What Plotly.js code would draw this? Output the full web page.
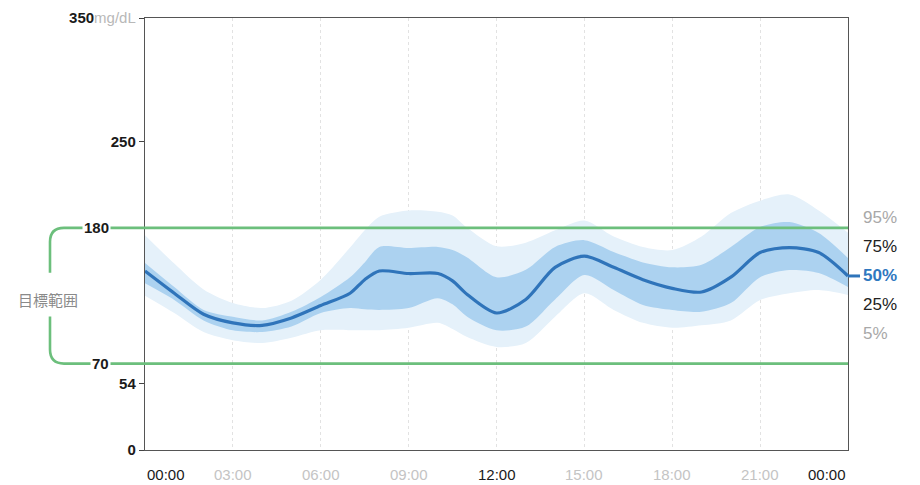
<!DOCTYPE html>
<html>
<head>
<meta charset="utf-8">
<script src="https://cdn.plot.ly/plotly-3.0.1.min.js"></script>
<style>html,body{margin:0;padding:0;background:#fff;}#chart{width:920px;height:485px;}</style>
</head>
<body>
<div id="chart"></div>
<script>
// ---- data (hours of day, mg/dL) ----
const hours = [0,1,2,3,4,5,6,7,7.5,8,9,10,10.5,11,12,13,14,15,16,17,18,19,20,21,22,23,24];
const p95 = [174,151,130,119,115,121,138,164,178,189,194,193,190,180,165,168,178,186,173,164.5,162,173,192,202,207,194,176];
const p75 = [151.5,132,113.5,108,105,112,124,140,152,164.5,163.6,164.5,162,156,140,146,164.5,170,160.5,152,148,150,164.5,180.7,184.7,175.8,155.5];
const p50 = [145,127,110,103,101,107,117,127,138,145,143,143,137,126,111,122,148,157,148,138,131,128,140,160,164,160,141];
const p25 = [135,121.5,105,97,95.6,100,111,115,114,113.5,115,123,118,108,97,100,122,141.8,129.6,117.5,113.5,112,119,140,145.8,143.4,132];
const p5  = [125,111,95.6,89,86.7,91,97,97,97,97,99,103,98,91.5,83.5,86.7,108,127,113.5,103,99,101,105,121.5,127,129.6,125.6];

const xTickVals = [0,3,6,9,12,15,18,21,24];
const xTickText = ['00:00','03:00','06:00','09:00','12:00','15:00','18:00','21:00','00:00'];
const xTickMajor = [true,false,false,false,true,false,false,false,true];

const yTickVals = [0,54,250,350];
const yTickText = ['0','54','250','350'];
const targetLow = 70, targetHigh = 180;
const targetLabel = '目標範囲';
const unit = 'mg/dL';
const pctLabels = ['95%','75%','50%','25%','5%'];
const pctColors = ['#a8a8a8','#222222','#2f78c0','#222222','#a8a8a8'];

// ---- styles ----
const narrow = '"Liberation Sans", Arial, sans-serif';
const sans = '"Liberation Sans", Arial, sans-serif';
const green = '#6cbf7c';
const spl = {shape:'spline', smoothing:0.8, width:0};

const traces = [
  {x:hours, y:p5, mode:'lines', line:Object.assign({color:'rgba(0,0,0,0)'},spl), hoverinfo:'skip', showlegend:false},
  {x:hours, y:p95, mode:'lines', fill:'tonexty', fillcolor:'#e5f1fa', line:Object.assign({color:'rgba(0,0,0,0)'},spl), hoverinfo:'skip', showlegend:false},
  {x:hours, y:p25, mode:'lines', line:Object.assign({color:'rgba(0,0,0,0)'},spl), hoverinfo:'skip', showlegend:false},
  {x:hours, y:p75, mode:'lines', fill:'tonexty', fillcolor:'#acd2f0', line:Object.assign({color:'rgba(0,0,0,0)'},spl), hoverinfo:'skip', showlegend:false},
  {x:hours, y:p50, mode:'lines', line:{color:'#2f74ba', width:3.2, shape:'spline', smoothing:0.8}, hoverinfo:'skip', showlegend:false}
];

// geometry helpers (paper coords relative to plot area)
const L = 145, R = 72, T = 18, B = 35, W = 920, H = 485;
const pw = W - L - R;
const px = p => (p - L) / pw;           // pixel x -> paper x
const yPerPx = 350 / (H - T - B);       // data units per pixel

const cx = px(50), rX = 14 / pw, rY = 14 * yPerPx;
const gapTop = targetHigh - 45 * yPerPx, gapBot = targetLow + 47 * yPerPx;
const bracket = `M 1,${targetHigh} L ${cx + rX},${targetHigh} Q ${cx},${targetHigh} ${cx},${targetHigh - rY} L ${cx},${gapTop} ` +
                `M ${cx},${gapBot} L ${cx},${targetLow + rY} Q ${cx},${targetLow} ${cx + rX},${targetLow} L 1,${targetLow}`;

const shapes = [
  {type:'path', path:bracket, xref:'paper', yref:'y', line:{color:green, width:2.6}, layer:'above'},
  {type:'line', xref:'paper', yref:'y', x0:1, x1:1 + 12/pw, y0:p50[p50.length-1], y1:p50[p50.length-1], line:{color:'#2f74ba', width:3}}
];

const annotations = [];
// x labels
xTickVals.forEach((v,i) => {
  annotations.push({x:v, xref:'x', y:0, yref:'paper', yshift:-14, yanchor:'top', showarrow:false,
    xanchor: i === 0 ? 'left' : (i === xTickVals.length - 1 ? 'right' : 'center'),
    text:xTickText[i], font:{family:narrow, size:15, color: xTickMajor[i] ? '#1a1a1a' : '#c4c4c4'}});
});
// target labels
[targetHigh, targetLow].forEach(v => {
  annotations.push({x:px(111), xref:'paper', y:v, yref:'y', xanchor:'right', yanchor:'middle', showarrow:false,
    text:'<b>' + v + '</b>', bgcolor:'#ffffff', borderpad:1, font:{family:narrow, size:15, color:'#1a1a1a'}});
});
annotations.push({x:px(48), xref:'paper', y:(targetHigh + targetLow) / 2 - 4 * yPerPx, yref:'y', xanchor:'center', yanchor:'middle',
  showarrow:false, text:targetLabel, font:{family:'"Noto Sans CJK JP", sans-serif', size:15, color:'#8a8a8a'}});
// percentile labels
const midY = p50[p50.length-1], step = 23.5;
pctLabels.forEach((t,i) => {
  annotations.push({x:px(861), xref:'paper', y:midY + (2 - i) * step, yref:'y', xanchor:'left', yanchor:'middle', showarrow:false,
    text: i === 2 ? '<b>' + t + '</b>' : t, font:{family:sans, size:17, color:pctColors[i]}});
});

const yText = yTickText.map((t,i) => yTickVals[i] === 350 ? '<b>' + t + '</b><span style="color:#b8b8b8;font-weight:normal">' + unit + '</span>' : '<b>' + t + '</b>');

const layout = {
  width:W, height:H,
  margin:{l:L, r:R, t:T, b:B},
  paper_bgcolor:'#ffffff', plot_bgcolor:'#ffffff',
  showlegend:false,
  xaxis:{range:[0,24], tickvals:xTickVals, showticklabels:false, ticks:'', showgrid:true, gridcolor:'#e2e2e2', griddash:'dot', gridwidth:1,
         showline:true, linecolor:'#555', linewidth:1.2, mirror:true, zeroline:false, fixedrange:true},
  yaxis:{range:[0,350], tickvals:yTickVals, ticktext:yText, ticks:'outside', ticklen:5, tickcolor:'#444', showgrid:false,
         showline:true, linecolor:'#555', linewidth:1.2, mirror:true, zeroline:false, fixedrange:true,
         tickfont:{family:narrow, size:15, color:'#1a1a1a'}},
  shapes:shapes,
  annotations:annotations
};

Plotly.newPlot('chart', traces, layout, {displayModeBar:false, staticPlot:true});
</script>
</body>
</html>
